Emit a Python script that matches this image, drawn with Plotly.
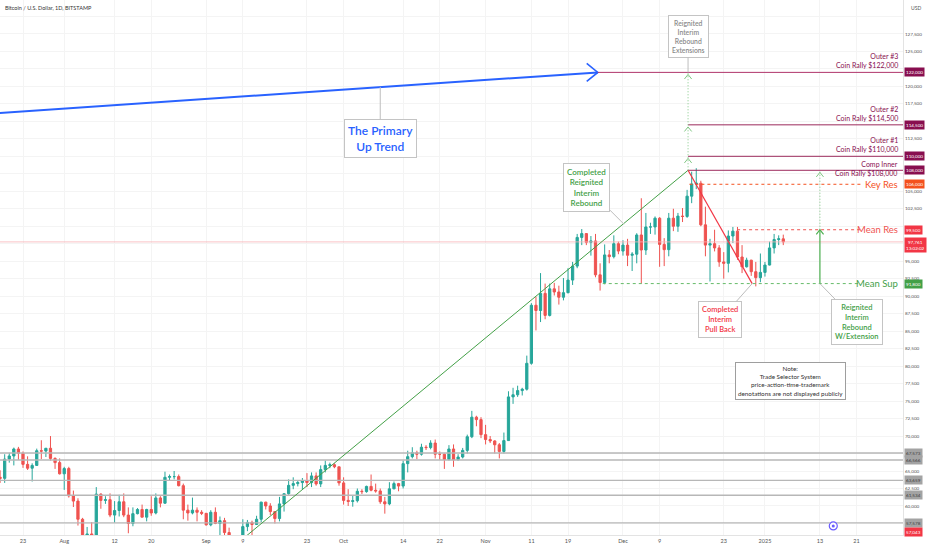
import pandas as pd
import plotly.graph_objects as go

# Daily candles, Bitstamp BTC/USD, 17 Jul 2024 - 5 Jan 2025
dates = pd.date_range("2024-07-17", "2025-01-05", freq="D")

opens_jul = [65100, 64100, 63950, 66700, 67150, 68150, 67550, 65950, 65400, 65800, 67900, 67850, 68250, 66800, 66200]
highs_jul = [66100, 65100, 67400, 67600, 68350, 68450, 67800, 67100, 66100, 68200, 69400, 68300, 70000, 66950, 66800]
lows_jul = [63900, 63300, 63300, 66200, 65800, 66600, 65450, 65150, 63500, 65750, 66700, 67000, 66500, 65300, 64500]
closes_jul = [64100, 63950, 66700, 67150, 68150, 67550, 65950, 65400, 65800, 67900, 67850, 68250, 66800, 66200, 64600]

opens_aug = [64600, 65350, 61450, 60700, 58100, 54000, 56000, 55100, 61700, 60800, 60900, 58700, 59350, 60600, 58700, 57500,
             58900, 59500, 58400, 59500, 59000, 61150, 60400, 64100, 64200, 64200, 62900, 59400, 59000, 59400, 59100]
highs_aug = [65600, 65600, 62200, 61100, 58300, 57000, 57700, 62700, 61800, 61400, 61800, 60700, 61600, 61800, 59800, 59800,
             59700, 60200, 59600, 61400, 61800, 61400, 64900, 64500, 65000, 64500, 63200, 60200, 61200, 59800, 59400]
lows_aug = [62300, 61200, 59850, 57200, 49100, 53900, 54600, 54700, 59600, 60300, 58400, 57600, 58500, 58400, 56100, 57100,
            58800, 58400, 57800, 58600, 58800, 59800, 60300, 63600, 63800, 62800, 58100, 57900, 58800, 57800, 58700]
closes_aug = [65350, 61450, 60700, 58100, 54000, 56000, 55100, 61700, 60800, 60900, 58700, 59350, 60600, 58700, 57500, 58900,
              59500, 58400, 59500, 59000, 61150, 60400, 64100, 64200, 64200, 62900, 59400, 59000, 59400, 59100, 58950]

opens_sep = [58950, 57300, 59100, 57500, 57900, 56200, 53950, 54150, 54850, 57050, 57650, 57350, 58100, 60550, 60000,
             59200, 58200, 60300, 61750, 62950, 63200, 63350, 63600, 63350, 64300, 63150, 65200, 65800, 65900, 65600]
highs_sep = [59000, 59400, 59800, 58500, 58300, 56900, 54800, 55300, 58100, 58000, 57900, 58600, 60600, 60600, 60400,
             59200, 61300, 61700, 63800, 64100, 63600, 64000, 64700, 64800, 64800, 65800, 66500, 66200, 66100, 65600]
lows_sep = [57200, 57100, 57400, 55600, 55700, 52600, 53700, 53600, 54600, 56400, 55600, 57300, 57700, 59500, 58700,
            57500, 57800, 59200, 61600, 62400, 62800, 62400, 62700, 62700, 62900, 62700, 64800, 65400, 65400, 62900]
closes_sep = [57300, 59100, 57500, 57900, 56200, 53950, 54150, 54850, 57050, 57650, 57350, 58100, 60550, 60000, 59200,
              58200, 60300, 61750, 62950, 63200, 63350, 63600, 63350, 64300, 63150, 65200, 65800, 65900, 65600, 63300]

opens_oct = [63300, 60800, 60650, 60750, 62100, 62050, 62800, 62250, 62150, 60600, 60300, 62450, 63200, 62850, 66050, 67050,
             67600, 67400, 68400, 68350, 69000, 67400, 67400, 66650, 68150, 66600, 67000, 67950, 69900, 72700, 72350]
highs_oct = [64100, 62400, 61500, 62500, 62400, 62900, 64500, 63200, 62500, 61300, 63400, 63500, 63300, 66500, 67900, 68400,
             67900, 68900, 68700, 69400, 69500, 67800, 67500, 68700, 68800, 67400, 68300, 70200, 73600, 72900, 72700]
lows_oct = [60200, 60000, 59900, 60500, 61700, 61900, 62100, 61900, 60300, 58900, 60100, 62400, 62100, 62500, 64800, 66800,
            66700, 67200, 68000, 68100, 66800, 66600, 65300, 66500, 65600, 66500, 66800, 67500, 69700, 71400, 69700]
closes_oct = [60800, 60650, 60750, 62100, 62050, 62800, 62250, 62150, 60600, 60300, 62450, 63200, 62850, 66050, 67050, 67600,
              67400, 68400, 68350, 69000, 67400, 67400, 66650, 68150, 66600, 67000, 67950, 69900, 72700, 72350, 70200]

opens_nov = [70200, 69500, 69300, 68750, 67800, 69350, 75600, 75900, 76500, 76700, 80400, 88700, 87950, 90400, 87250,
             91050, 90600, 89850, 90500, 92300, 94300, 98400, 98950, 97700, 97900, 93050, 91950, 95900, 95650, 97500]
highs_nov = [71600, 70000, 69400, 69000, 70500, 76400, 76900, 77200, 76900, 81500, 89000, 89900, 93300, 91800, 91800,
             91900, 91500, 92600, 94000, 94900, 98900, 99600, 99000, 98600, 98900, 94700, 97400, 96600, 98700, 97800]
lows_nov = [68800, 69000, 67500, 66800, 67500, 69300, 74600, 75600, 75800, 76500, 80200, 85100, 86300, 86700, 87100,
            90100, 88800, 89400, 90400, 91600, 94000, 97300, 97300, 95800, 92700, 90800, 91700, 94700, 95400, 96000]
closes_nov = [69500, 69300, 68750, 67800, 69350, 75600, 75900, 76500, 76700, 80400, 88700, 87950, 90400, 87250, 91050,
              90600, 89850, 90500, 92300, 94300, 98400, 98950, 97700, 97900, 93050, 91950, 95900, 95650, 97500, 96450]

opens_dec = [96450, 97300, 95850, 96000, 98750, 96600, 99900, 99900, 101150, 97400, 96650, 101150, 100000, 101450, 101400, 104300,
             106050, 106150, 100200, 97300, 97500, 96900, 94900, 94700, 98600, 99300, 95600, 94200, 95150, 93500, 92650]
highs_dec = [98000, 98200, 96300, 99000, 104000, 101900, 100500, 101400, 101300, 98300, 101900, 102500, 101900, 102600, 105200, 107800,
             108300, 106500, 102800, 98200, 99500, 97300, 96300, 99400, 99900, 99900, 97300, 95500, 95200, 94900, 96100]
lows_dec = [95800, 94300, 93600, 94700, 91800, 95900, 98900, 98800, 94200, 94300, 95700, 99300, 99200, 100600, 101200, 103300,
            105300, 100000, 95700, 92100, 96400, 94200, 92500, 93400, 97600, 95200, 93300, 94100, 92900, 91400, 92000]
closes_dec = [97300, 95850, 96000, 98750, 96600, 99900, 99900, 101150, 97400, 96650, 101150, 100000, 101450, 101400, 104300, 106050,
              106150, 100200, 97300, 97500, 96900, 94900, 94700, 98600, 99300, 95600, 94200, 95150, 93500, 92650, 93400]

opens_jan = [93400, 94450, 96900, 98100, 98200]
highs_jan = [94900, 97800, 98900, 98700, 98800]
lows_jan = [92800, 94400, 96100, 97300, 97300]
closes_jan = [94450, 96900, 98100, 98200, 97761]

opens = opens_jul + opens_aug + opens_sep + opens_oct + opens_nov + opens_dec + opens_jan
highs = highs_jul + highs_aug + highs_sep + highs_oct + highs_nov + highs_dec + highs_jan
lows = lows_jul + lows_aug + lows_sep + lows_oct + lows_nov + lows_dec + lows_jan
closes = closes_jul + closes_aug + closes_sep + closes_oct + closes_nov + closes_dec + closes_jan

# x axis labels as TradingView shows them
tick_dates = ["2024-07-23", "2024-08-01", "2024-08-12", "2024-08-20", "2024-09-01", "2024-09-09", "2024-09-23",
              "2024-10-01", "2024-10-14", "2024-10-22", "2024-11-01", "2024-11-11", "2024-11-19", "2024-12-01",
              "2024-12-09", "2024-12-23", "2025-01-01", "2025-01-13", "2025-01-21"]
tick_text = ["23", "Aug", "12", "20", "Sep", "9", "23", "Oct", "14", "22", "Nov", "11", "19", "Dec",
             "9", "23", "2025", "13", "21"]

# price scale labels (the ones hidden behind level tags are left blank)
price_ticks = list(range(57500, 132500, 2500))
hidden_ticks = [57500, 67500, 97500, 100000, 107500, 110000, 115000, 122500, 130000]

# horizontal levels
support_levels = [67573, 66566, 63659, 61534, 57578]
target_levels = [122000, 114500, 110000, 108000]
target_names = ["Outer #3", "Outer #2", "Outer #1", "Comp Inner"]
key_res = 106000
mean_res = 99500
mean_sup = 91800
last_price = 97761
low_tag = 57043

FONT = "Lato, 'Open Sans', sans-serif"
UP = "#26a69a"
DOWN = "#ef5350"
MAROON = "#880e4f"
GREEN = "#43a047"
RED = "#f23645"
END = "2025-02-05"

fig = go.Figure()


def add_line(xs, ys, color, width=1, dash="solid"):
    fig.add_trace(go.Scatter(x=xs, y=ys, mode="lines", line=dict(color=color, width=width, dash=dash),
                             hoverinfo="skip", showlegend=False))


def chevron(x, y, color, direction="up", width=1):
    t = pd.Timestamp(x)
    if direction == "up":
        xs = [t - pd.Timedelta(hours=19), t, t + pd.Timedelta(hours=19)]
        ys = [y - 650, y, y - 650]
    else:
        xs = [t - pd.Timedelta(hours=58), t, t - pd.Timedelta(hours=58)]
        ys = [y + 1300, y, y - 1300]
    add_line(xs, ys, color, width)


def callout(x, y, text, color, ax, ay, size):
    fig.add_annotation(x=x, y=y, text=text, showarrow=True, arrowhead=0, arrowwidth=1, arrowcolor="#bdbdbd",
                       ax=ax, ay=ay, standoff=0, font=dict(family=FONT, size=size, color=color, weight=600),
                       bordercolor="#c4c4c4", borderwidth=1, borderpad=3, bgcolor="white", align="center")


def tag(y, text, bg, fg="white", yshift=0, yanchor="middle"):
    fig.add_annotation(x=1, xref="paper", xanchor="left", xshift=1, y=y, yanchor=yanchor, yshift=yshift,
                       text=text, showarrow=False, bgcolor=bg, borderpad=1,
                       font=dict(family=FONT, size=4.6, color=fg))


# gray support lines
for lvl in support_levels:
    add_line(["2024-07-01", END], [lvl, lvl], "#b7b7b7", 1.4)

# last price line
add_line(["2024-07-01", END], [last_price, last_price], "#f7b3b7", 0.8)

fig.add_trace(go.Candlestick(
    x=dates, open=opens, high=highs, low=lows, close=closes,
    increasing=dict(line=dict(color=UP, width=1), fillcolor=UP),
    decreasing=dict(line=dict(color=DOWN, width=1), fillcolor=DOWN),
    whiskerwidth=0, hoverinfo="skip", showlegend=False))

# primary up trend (blue)
add_line(["2024-07-17", "2024-11-25 12:00"], [116150, 122000], "#2962ff", 2)
chevron("2024-11-25 12:00", 122000, "#2962ff", "right", 1.6)

# target levels
add_line(["2024-11-25 12:00", END], [122000, 122000], "#b0356a", 1)
for lvl in target_levels[1:]:
    add_line(["2024-12-15 05:00", END], [lvl, lvl], "#9c2a5c", 1)

# dashed resistance / support
add_line(["2024-12-15 12:00", "2025-01-22 05:00"], [key_res, key_res], "#f4511e", 1, "3px,3px")
add_line(["2024-12-25 22:00", "2025-01-22 05:00"], [mean_res, mean_res], "#ef5350", 1, "3px,3px")
add_line(["2024-11-26 14:00", "2025-01-21 12:00"], [mean_sup, mean_sup], "#66bb6a", 1, "3px,3px")

# rebound trend and pull back
add_line(["2024-09-09", "2024-12-15 05:00"], [55300, 108000], GREEN, 1)
add_line(["2024-12-15 05:00", "2024-12-29 05:00"], [108000, 91800], RED, 1.2)

# extension projections
add_line(["2024-12-15 05:00", "2024-12-15 05:00"], [108000, 122000], "#81c784", 1, "1px,2px")
for lvl in [110000, 114500, 122000]:
    chevron("2024-12-15 05:00", lvl - 300, "#81c784", "up", 1)
add_line(["2025-01-13", "2025-01-13"], [mean_sup, mean_res], "#4caf50", 1.2)
chevron("2025-01-13", mean_res, "#4caf50", "up", 1.2)
add_line(["2025-01-13", "2025-01-13"], [mean_res, 108000], "#81c784", 1, "1px,2px")
chevron("2025-01-13", 107700, "#81c784", "up", 1)

# events icon
fig.add_trace(go.Scatter(x=["2025-01-15 22:00"], y=[57150], mode="markers",
                         marker=dict(symbol="circle", size=8, color="white",
                                     line=dict(color="#6a5cff", width=1.2)),
                         hoverinfo="skip", showlegend=False))
fig.add_trace(go.Scatter(x=["2025-01-15 22:00"], y=[57150], mode="markers",
                         marker=dict(symbol="circle", size=3, color="#6a5cff"),
                         hoverinfo="skip", showlegend=False))

# right side level texts
for lvl, name in zip(target_levels[:3], target_names[:3]):
    fig.add_annotation(x=0.9965, xref="paper", xanchor="right", y=lvl, yanchor="bottom", yshift=0,
                       text=f"{name}<br>Coin Rally ${lvl:,}", showarrow=False, align="right",
                       font=dict(family=FONT, size=7, color=MAROON))
fig.add_annotation(x=0.9965, xref="paper", xanchor="right", y=108000, yanchor="middle", yshift=1,
                   text=f"{target_names[3]}<br>Coin Rally $108,000", showarrow=False, align="right",
                   font=dict(family=FONT, size=7, color=MAROON))
for lvl, name, col in [(key_res, "Key Res", "#f4511e"), (mean_res, "Mean Res", "#ef5350"), (mean_sup, "Mean Sup", GREEN)]:
    fig.add_annotation(x=0.9965, xref="paper", xanchor="right", y=lvl, yanchor="middle",
                       text=name, showarrow=False, font=dict(family=FONT, size=9.5, color=col))

# callouts
callout("2024-10-09", 119900, "The Primary<br>Up Trend", "#2962ff", 0, 51, 12)
callout("2024-12-01 05:00", 100300, "Completed<br>Reignited<br>Interim<br>Rebound", GREEN, -37, -37, 8)
callout("2024-12-15 05:00", 122000, "Reignited<br>Interim<br>Rebound<br>Extensions", "#8a8a8a", 0, -36, 6.8)
callout("2024-12-29 05:00", mean_sup, "Completed<br>Interim<br>Pull Back", RED, -32, 36, 7.5)
callout("2025-01-13", mean_sup, "Reignited<br>Interim<br>Rebound<br>W/Extension", GREEN, 37, 38, 7.5)

fig.add_annotation(x="2025-01-06 12:00", y=77900, showarrow=False, align="center",
                   text="Note:<br>Trade Selector System<br>price-action-time-trademark<br>denotations are not displayed publicly",
                   font=dict(family=FONT, size=6.3, color="#333333"),
                   bordercolor="#9e9e9e", borderwidth=1, borderpad=2, bgcolor="white")

# price scale tags
for lvl in target_levels:
    tag(lvl, f"{lvl:,}", MAROON)
tag(key_res, f"{key_res:,}", "#f4511e")
tag(mean_res, f"{mean_res:,}", RED)
tag(last_price, f"{last_price:,}<br>13:02:02", "#f23645", yanchor="top", yshift=5)
tag(mean_sup, f"{mean_sup:,}", GREEN)
for lvl in support_levels:
    tag(lvl, f"{lvl:,}", "#a3a3a3", "#3c3c3c")
tag(low_tag, f"{low_tag:,}", RED, yshift=-5)

# header texts
fig.add_annotation(x=0.003, xref="paper", xanchor="left", y=0.985, yref="paper", yanchor="middle",
                   text="Bitcoin / U.S. Dollar, 1D, BITSTAMP", showarrow=False,
                   font=dict(family=FONT, size=5.5, color="#333333"))
fig.add_annotation(x=1, xref="paper", xanchor="left", xshift=6, y=0.985, yref="paper", yanchor="middle",
                   text="USD", showarrow=False, font=dict(family=FONT, size=5, color="#555555"))

fig.update_layout(
    width=932, height=550,
    margin=dict(l=0, r=29, t=0, b=15),
    paper_bgcolor="white", plot_bgcolor="white",
    showlegend=False,
    font=dict(family=FONT),
    xaxis=dict(type="date", range=["2024-07-17 23:30", "2025-01-31 03:20"],
               tickvals=tick_dates, ticktext=tick_text, ticks="",
               tickfont=dict(size=5.5, color="#555555"),
               showgrid=True, gridcolor="#f4f4f4", showline=True, linecolor="#e3e3e3",
               rangeslider=dict(visible=False), fixedrange=True),
    yaxis=dict(side="right", range=[55850, 132350],
               tickvals=price_ticks,
               ticktext=["" if v in hidden_ticks else f"{v:,}" for v in price_ticks],
               tickfont=dict(size=4.6, color="#555555"), ticks="",
               showgrid=True, gridcolor="#f4f4f4", showline=True, linecolor="#e3e3e3",
               zeroline=False, fixedrange=True),
)

fig.write_html("out.html", config={"displayModeBar": False},
               post_script="document.body.style.margin='0';")
